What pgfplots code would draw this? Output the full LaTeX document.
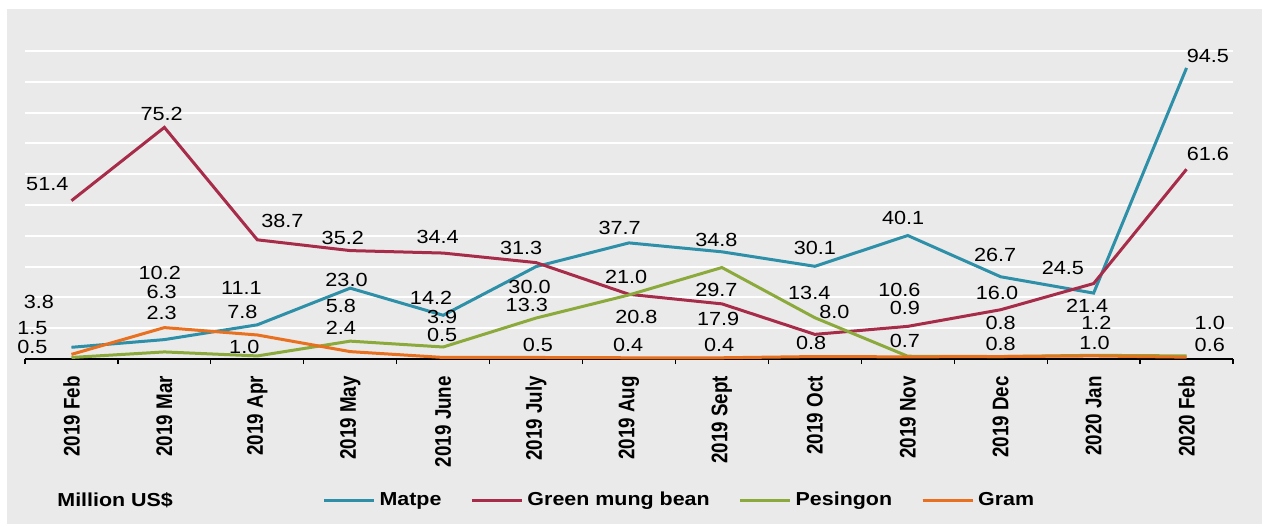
\documentclass[border=0pt]{standalone}
\usepackage{pgfplots}
\pgfplotsset{compat=1.18}
\usepackage{fontspec}
\setmainfont{Liberation Sans}
\newfontfamily\wide[FakeStretch=1.14]{Liberation Sans}
\definecolor{bg}{RGB}{234,234,234}
\definecolor{matpe}{RGB}{46,143,168}
\definecolor{gmb}{RGB}{166,44,74}
\definecolor{pes}{RGB}{140,170,60}
\definecolor{gram}{RGB}{232,112,30}
\newcommand{\tl}[1]{\scalebox{1}[1.2]{#1}}
\begin{document}
\begin{tikzpicture}
\path (0,0) rectangle (632.5pt,-263pt);
\fill[bg] (3.5pt,-4.5pt) rectangle (631pt,-262pt);
\begin{axis}[
  at={(12.5pt,-179.5pt)}, anchor=south west,
  scale only axis, width=604pt, height=154pt,
  xmin=-0.5, xmax=12.5, ymin=0, ymax=100,
  axis x line*=bottom, axis y line*=left,
  y axis line style={draw=none},
  x axis line style={black, line width=0.6pt},
  ytick={10,20,...,100}, yticklabels={}, ytick style={draw=none},
  ymajorgrids, grid style={white, line width=1pt},
  xtick={0,...,12},
  xticklabels={\tl{2019 Feb},\tl{2019 Mar},\tl{2019 Apr},\tl{2019 May},\tl{2019 June},\tl{2019 July},\tl{2019 Aug},\tl{2019 Sept},\tl{2019 Oct},\tl{2019 Nov},\tl{2019 Dec},\tl{2020 Jan},\tl{2020 Feb}},
  major tick length=0pt,
  minor xtick={-0.5,0.5,...,12.5},
  minor x tick style={black, line width=0.6pt},
  tick align=outside, minor tick length=2.5pt,
  xticklabel style={rotate=90, anchor=east, font=\bfseries\fontsize{9.4}{11}\selectfont, xshift=-5pt},
  clip=false,
  legend style={at={(rel axis cs:0.246,-0.458)}, anchor=west, draw=none, fill=none, legend columns=-1, font=\wide\bfseries\fontsize{9.4}{11}\selectfont, inner sep=0pt, /tikz/every even column/.append style={column sep=12.5pt}, cells={anchor=west}},
  legend image code/.code={\path (0pt,0pt) -- (25pt,0pt); \draw[#1] (0pt,0pt) -- (23pt,0pt);},
  every axis plot/.append style={line width=1.5pt},
]
\addplot[matpe, mark=none] coordinates {(0,3.8)(1,6.3)(2,11.1)(3,23.0)(4,14.2)(5,30.0)(6,37.7)(7,34.8)(8,30.1)(9,40.1)(10,26.7)(11,21.4)(12,94.5)};
\addlegendentry{Matpe}
\addplot[gmb, mark=none] coordinates {(0,51.4)(1,75.2)(2,38.7)(3,35.2)(4,34.4)(5,31.3)(6,21.0)(7,17.9)(8,8.0)(9,10.6)(10,16.0)(11,24.5)(12,61.6)};
\addlegendentry{Green mung bean}
\addplot[pes, mark=none] coordinates {(0,0.5)(1,2.3)(2,1.0)(3,5.8)(4,3.9)(5,13.3)(6,20.8)(7,29.7)(8,13.4)(9,0.9)(10,0.8)(11,1.2)(12,1.0)};
\addlegendentry{Pesingon}
\addplot[gram, mark=none] coordinates {(0,1.5)(1,10.2)(2,7.8)(3,2.4)(4,0.5)(5,0.5)(6,0.4)(7,0.4)(8,0.8)(9,0.7)(10,0.8)(11,1.0)(12,0.6)};
\addlegendentry{Gram}
\addplot[draw=none, mark=none, forget plot, nodes near coords, point meta=explicit symbolic,
  nodes near coords style={anchor=center, inner sep=0pt, font=\wide\fontsize{9.5}{11}\selectfont, text=black}]
  table[meta=lab] {
x y lab
-0.26 56.8 51.4
0.97 79.5 75.2
2.27 44.8 38.7
2.92 39.3 35.2
0.95 28.0 10.2
0.97 21.8 6.3
0.97 14.9 2.3
-0.35 18.5 3.8
-0.42 10.0 1.5
-0.42 3.9 0.5
1.83 23.0 11.1
1.84 15.3 7.8
1.86 3.9 1.0
2.96 25.6 23.0
2.90 17.2 5.8
2.90 10.0 2.4
3.94 39.6 34.4
3.87 19.8 14.2
3.99 13.6 3.9
3.99 7.8 0.5
4.84 36.0 31.3
4.93 23.4 30.0
4.90 17.5 13.3
5.02 4.5 0.5
5.90 42.5 37.7
5.97 26.6 21.0
6.08 13.6 20.8
5.99 4.5 0.4
6.94 38.6 34.8
6.94 22.4 29.7
6.96 13.0 17.9
6.97 4.5 0.4
8.00 36.0 30.1
7.94 21.4 13.4
8.21 15.3 8.0
7.96 5.2 0.8
8.95 45.8 40.1
8.91 22.4 10.6
8.97 16.6 0.9
8.97 5.8 0.7
9.94 33.8 26.7
9.96 21.4 16.0
10.00 11.7 0.8
10.00 4.9 0.8
10.67 29.5 24.5
10.93 17.3 21.4
11.03 11.7 1.2
11.01 5.3 1.0
12.23 98.4 94.5
12.23 66.6 61.6
12.25 11.7 1.0
12.25 4.5 0.6
};
\node[anchor=west, inner sep=0pt, font=\wide\bfseries\fontsize{9.4}{11}\selectfont] at (rel axis cs:0.0265,-0.458) {Million US\$};
\end{axis}
\end{tikzpicture}
\end{document}
